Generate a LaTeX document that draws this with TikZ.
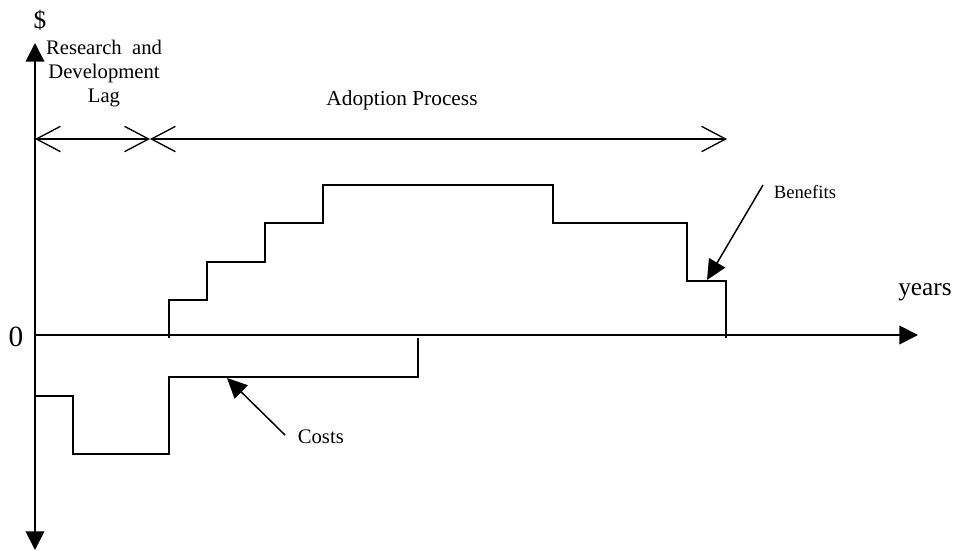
\documentclass[tikz,border=0pt]{standalone}
\usepackage{fontspec}
\setmainfont{Liberation Serif}
\usetikzlibrary{arrows.meta}
\begin{document}
\begin{tikzpicture}[x=0.75pt,y=-0.75pt, line width=1.3pt,
  ax/.style={-{Triangle[length=14pt,width=14pt]}},
  ptr/.style={-{Triangle[length=15pt,width=14pt]}},
  spanarrow/.style={{Straight Barb[length=18pt,width=19pt]}-{Straight Barb[length=18pt,width=19pt]}, line width=1pt},
  lbl/.style={inner sep=0pt}]
\useasboundingbox (0,0) rectangle (956,550);
% axes
\coordinate (O) at (35,335);
\coordinate (ytop) at (35,43);
\coordinate (ybot) at (35,550);
\coordinate (xend) at (918,335);
\draw[ax] (O) -- (ytop);
\draw[ax] (O) -- (ybot);
\draw[ax] (O) -- (xend);
% span arrows
\coordinate (s0) at (35,139);
\coordinate (s1) at (150,139);
\coordinate (s2) at (727,139);
\draw[spanarrow] (s0) -- (s1);
\draw[spanarrow] (s1) -- (s2);
% labels
\node[lbl, font=\fontsize{19}{22}\selectfont] (dollar) at (40,20) {\$};
\node[lbl, align=center, font=\fontsize{15.5}{18}\selectfont] (rd) at (104,74) {Research~ and\\Development\\Lag};
\node[lbl, font=\fontsize{16}{19}\selectfont] (adopt) at (402,100) {Adoption Process};
\node[lbl, font=\fontsize{19}{22}\selectfont] (years) at (925,292) {years};
\node[lbl, font=\fontsize{22}{26}\selectfont] (zero) at (16,337) {0};
\node[lbl, anchor=west, font=\fontsize{14}{16}\selectfont] (benefits) at (773,192) {Benefits};
\node[lbl, anchor=west, font=\fontsize{15.5}{18}\selectfont] (costs) at (297,437) {Costs};
% benefit steps
\draw (169,338) -- (169,300) -- (207,300) -- (207,262) -- (265,262) -- (265,223)
  -- (323,223) -- (323,185) -- (553,185) -- (553,223) -- (687,223) -- (687,281)
  -- (726,281) -- (726,338);
% cost steps
\draw (35,396) -- (73,396) -- (73,454) -- (169,454) -- (169,377) -- (418,377) -- (418,338);
% pointers
\coordinate (bstart) at (763,185);
\coordinate (btip) at (707,280);
\coordinate (cstart) at (285,435);
\coordinate (ctip) at (227,378);
\draw[ptr, line width=1.1pt] (bstart) -- (btip);
\draw[ptr, line width=1.1pt] (cstart) -- (ctip);
\end{tikzpicture}
\end{document}
